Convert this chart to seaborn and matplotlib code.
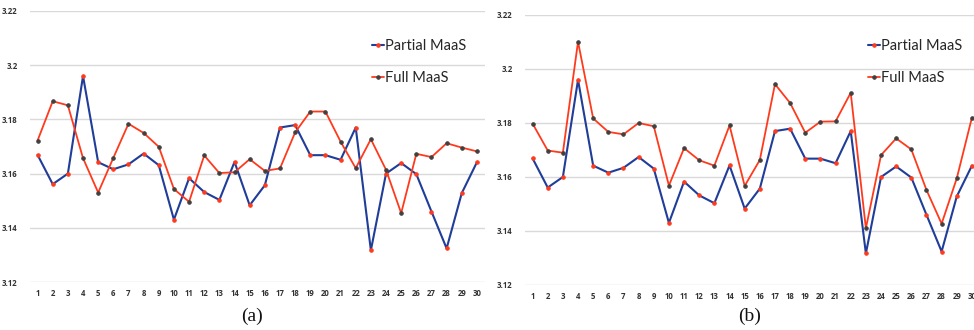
import matplotlib
matplotlib.use("Agg")
import matplotlib.pyplot as plt
import seaborn as sns
import pandas as pd
import numpy as np

runs = list(range(1, 31))
partial_maas = [3.1669, 3.1561, 3.1600, 3.1960, 3.1642, 3.1616, 3.1634, 3.1674, 3.1631, 3.1430,
                3.1583, 3.1532, 3.1503, 3.1643, 3.1483, 3.1557, 3.1770, 3.1779, 3.1668, 3.1668,
                3.1651, 3.1770, 3.1317, 3.1600, 3.1639, 3.1598, 3.1460, 3.1324, 3.1528, 3.1642]
full_maas_a = [3.1722, 3.1867, 3.1852, 3.1657, 3.1530, 3.1658, 3.1784, 3.1750, 3.1699, 3.1543,
               3.1496, 3.1667, 3.1602, 3.1605, 3.1653, 3.1610, 3.1619, 3.1752, 3.1829, 3.1829,
               3.1718, 3.1620, 3.1727, 3.1614, 3.1454, 3.1673, 3.1661, 3.1712, 3.1696, 3.1682]
full_maas_b = [3.1798, 3.1698, 3.1690, 3.2101, 3.1817, 3.1767, 3.1758, 3.1800, 3.1788, 3.1568,
               3.1707, 3.1662, 3.1642, 3.1791, 3.1567, 3.1663, 3.1944, 3.1874, 3.1764, 3.1805,
               3.1806, 3.1912, 3.1410, 3.1681, 3.1743, 3.1702, 3.1552, 3.1427, 3.1595, 3.1820]
y_ticks = [3.12, 3.14, 3.16, 3.18, 3.2, 3.22]
y_tick_labels = ["3.12", "3.14", "3.16", "3.18", "3.2", "3.22"]
series_names = ["Partial MaaS", "Full MaaS"]
captions = ["(a)", "(b)"]

sns.set_theme(style="white")
plt.rcParams['font.family'] = ['Lato', 'DejaVu Sans']

BLUE = "#1f3d99"
RED = "#ff3a1c"
GRAY = "#404040"

W, H = 974, 330
fig = plt.figure(figsize=(W / 100, H / 100), dpi=100)

def px_axes(left, right, top, bottom):
    return fig.add_axes([left / W, 1 - bottom / H, (right - left) / W, (bottom - top) / H])

panels = [
    dict(rect=(30, 484.5, 11, 282), full=full_maas_a, cap_x=252, leg=(372, 51)),
    dict(rect=(525, 979.5, 15, 285), full=full_maas_b, cap_x=750, leg=(868, 51)),
]

for i, p in enumerate(panels):
    ax = px_axes(*p["rect"])
    df = pd.DataFrame({"run": runs, series_names[0]: partial_maas, series_names[1]: p["full"]})
    sns.lineplot(data=df, x="run", y=series_names[0], ax=ax, color=BLUE, lw=1.5,
                 marker="o", markersize=2.5, markerfacecolor=RED, markeredgecolor=RED,
                 label=series_names[0])
    sns.lineplot(data=df, x="run", y=series_names[1], ax=ax, color=RED, lw=1.3,
                 marker="o", markersize=2.5, markerfacecolor=GRAY, markeredgecolor=GRAY,
                 label=series_names[1])
    ax.set_xlim(0.5, 30.5)
    ax.set_ylim(3.12, 3.22)
    ax.set_yticks(y_ticks)
    ax.set_yticklabels(y_tick_labels)
    ax.set_xticks(runs)
    ax.set_xticklabels([str(r) for r in runs])
    ax.set_xlabel("")
    ax.set_ylabel("")
    ax.grid(axis="y", color="#d9d9d9", lw=1.0)
    ax.grid(axis="x", visible=False)
    for s in ax.spines.values():
        s.set_visible(False)
    ax.tick_params(axis="both", length=0, labelsize=5.6, labelcolor="#333333")
    ax.tick_params(axis="y", pad=9)
    ax.tick_params(axis="x", pad=5)
    for lab in ax.get_xticklabels() + ax.get_yticklabels():
        lab.set_fontweight("bold")
        lab.set_family(["Open Sans", "DejaVu Sans"])
    lx, ly = p["leg"]
    ax.legend(loc="upper left", bbox_to_anchor=(lx / W, 1 - (ly - 12) / H),
              bbox_transform=fig.transFigure, frameon=False, fontsize=10.5,
              handlelength=0.8, handletextpad=0.1, labelspacing=1.25, borderpad=0,
              borderaxespad=0)
    fig.text(p["cap_x"] / W, 1 - 316 / H, captions[i], ha="center", va="center",
             fontsize=14, family=["Liberation Serif", "DejaVu Serif"], color="#111111")

fig.savefig("out.png", dpi=100)
